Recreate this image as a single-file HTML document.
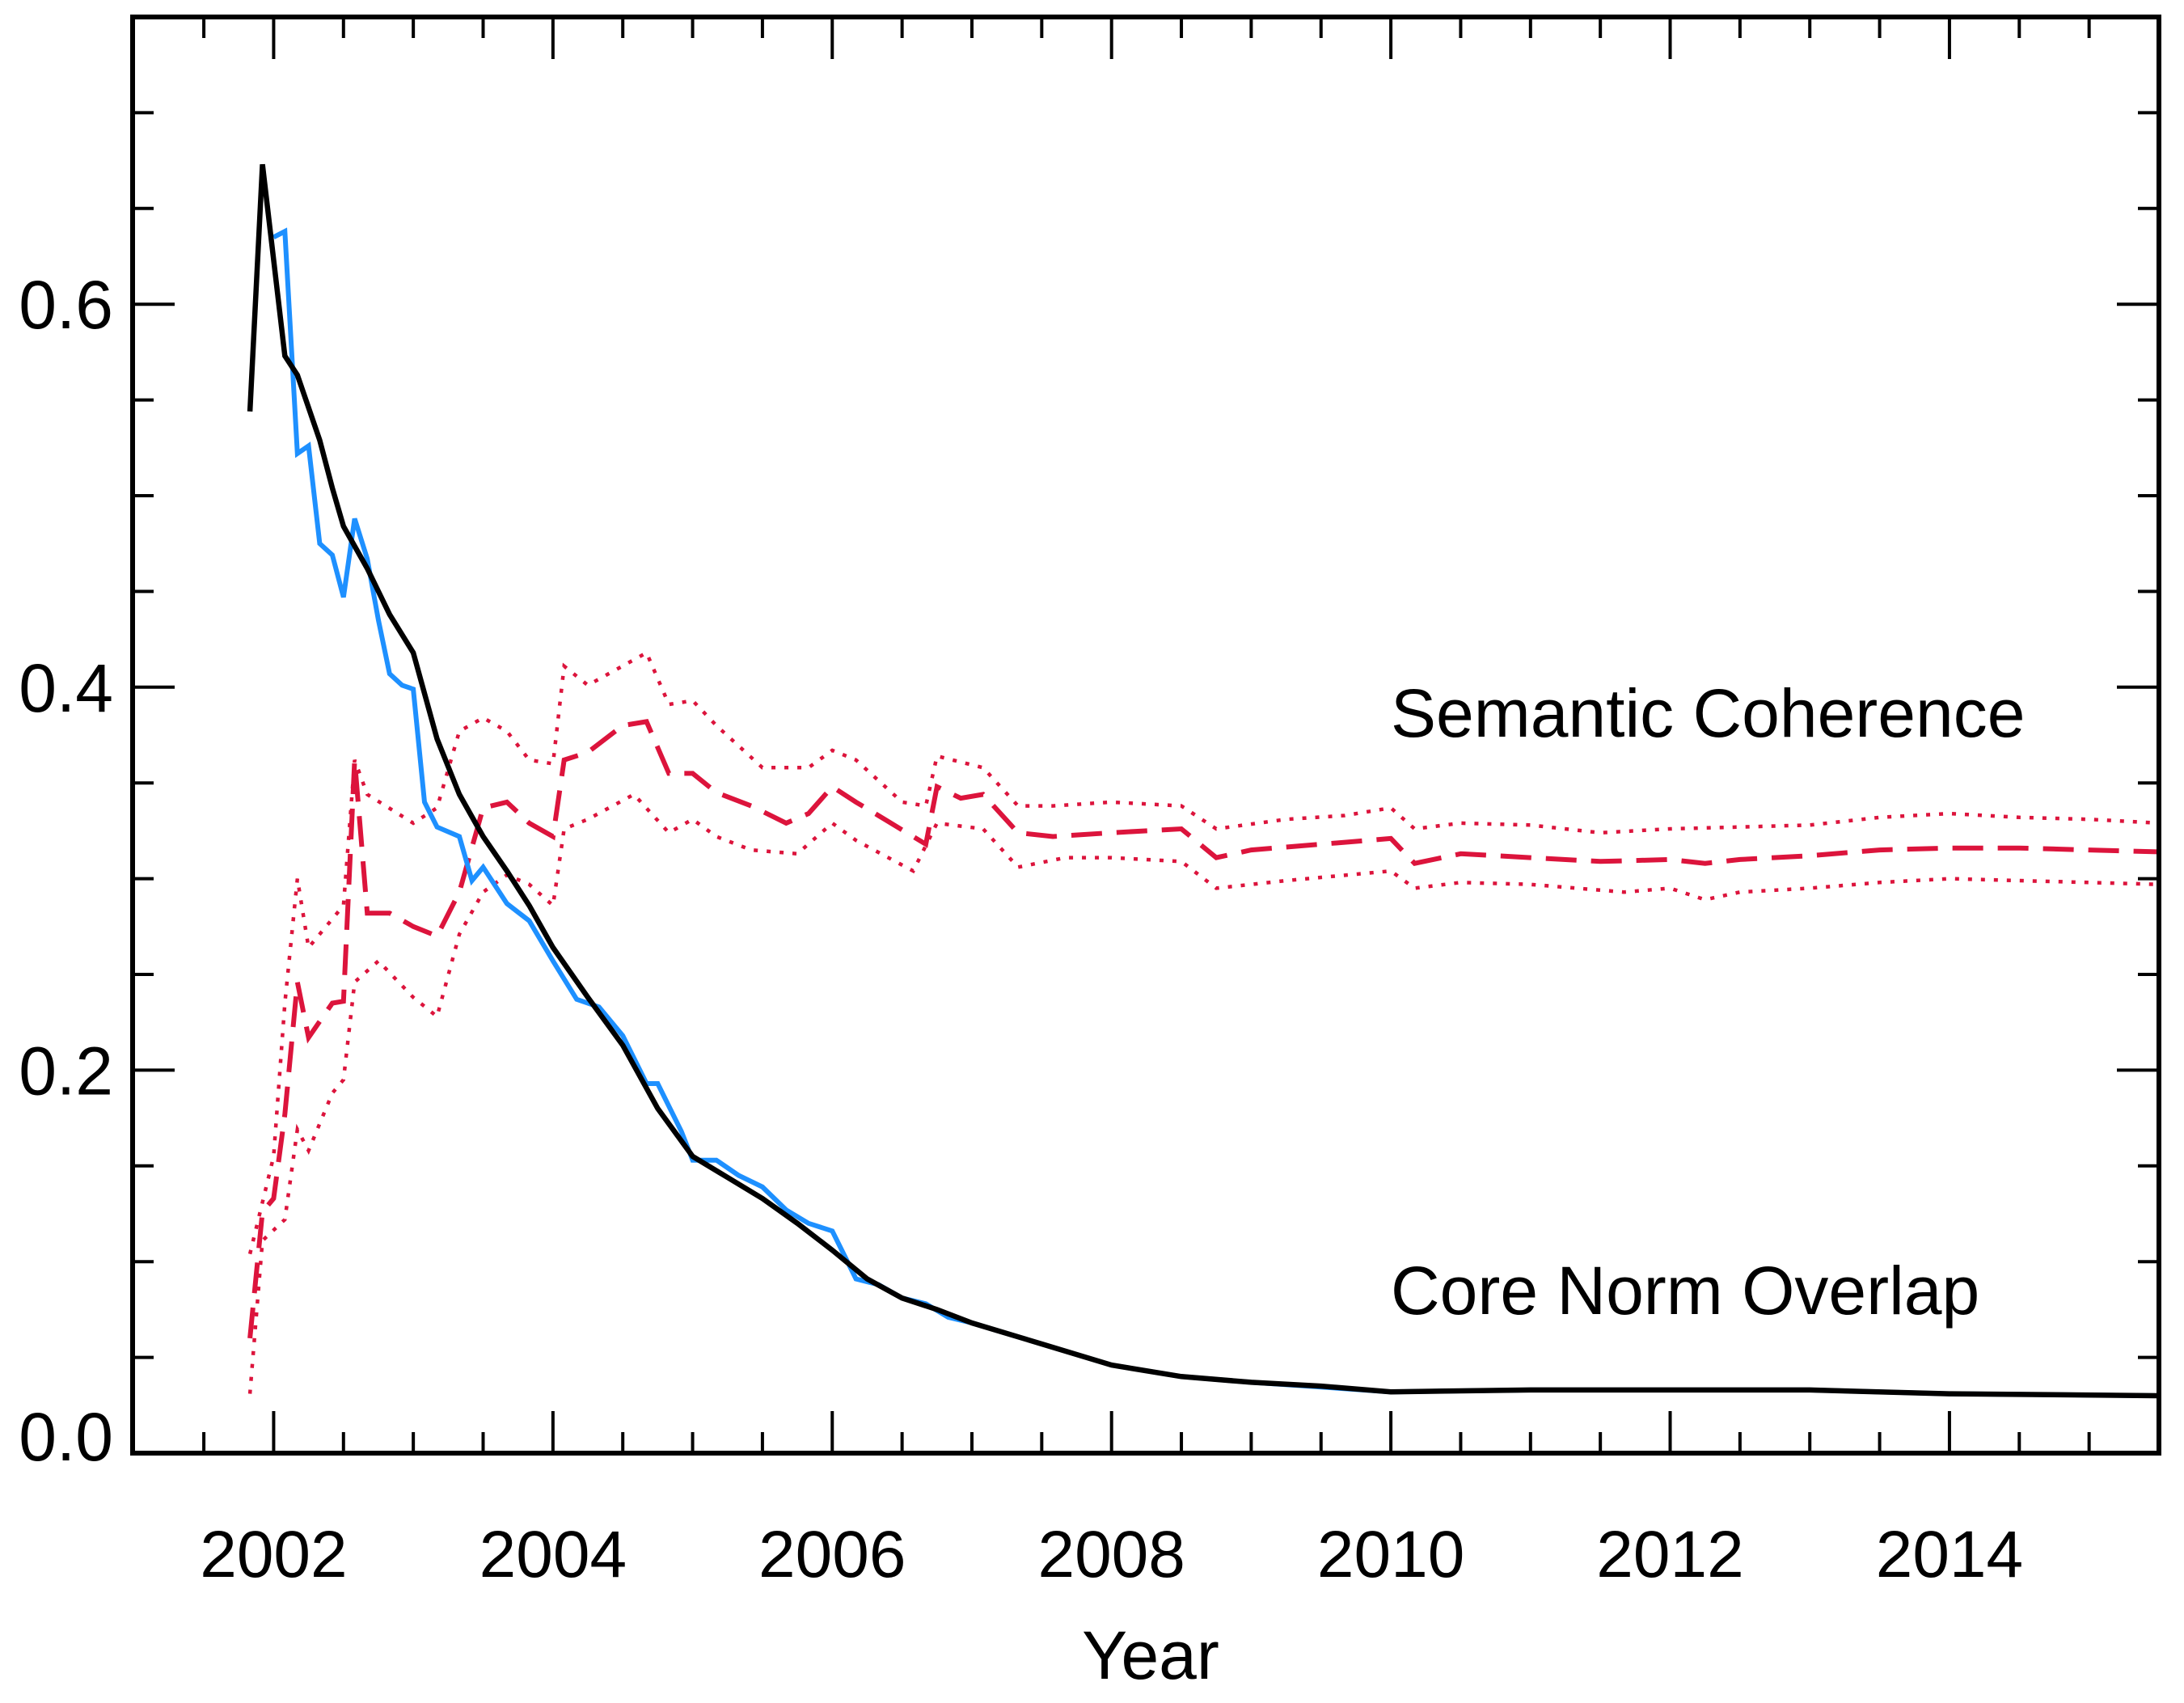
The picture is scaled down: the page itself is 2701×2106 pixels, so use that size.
<!DOCTYPE html>
<html><head><meta charset="utf-8"><style>
html,body{margin:0;padding:0;background:#fff;}
svg{display:block;font-family:"Liberation Sans",Arial,sans-serif;}
</style></head>
<body>
<svg id="chart" width="2701" height="2106" viewBox="0 0 2701 2106" xmlns="http://www.w3.org/2000/svg">
<g id="series"></g>
<g id="axes"></g>
<text x="1423" y="2076" font-size="84" text-anchor="middle">Year</text>
<text x="1720" y="911" font-size="84">Semantic Coherence</text>
<text x="1720" y="1625" font-size="84">Core Norm Overlap</text>
</svg>
<script>
const blackX=[2001.83,2001.92,2002.08,2002.17,2002.33,2002.42,2002.5,2002.67,2002.83,2003.0,2003.17,2003.33,2003.5,2003.67,2003.83,2004.0,2004.25,2004.5,2004.75,2005.0,2005.25,2005.5,2005.75,2006.0,2006.25,2006.5,2006.75,2007.0,2007.5,2008.0,2008.5,2009.0,2009.5,2010.0,2011,2012,2013,2014,2015.5];
const blackY=[0.544,0.673,0.573,0.563,0.529,0.504,0.484,0.462,0.438,0.418,0.373,0.344,0.322,0.304,0.286,0.264,0.238,0.213,0.180,0.155,0.144,0.133,0.120,0.106,0.091,0.081,0.075,0.068,0.057,0.046,0.040,0.037,0.035,0.032,0.033,0.033,0.033,0.031,0.030];
const blueX=[2002.0,2002.08,2002.17,2002.25,2002.33,2002.42,2002.5,2002.58,2002.67,2002.75,2002.83,2002.92,2003.0,2003.08,2003.17,2003.33,2003.42,2003.5,2003.67,2003.83,2004.0,2004.17,2004.33,2004.5,2004.67,2004.75,2004.92,2005.0,2005.17,2005.33,2005.5,2005.67,2005.83,2006.0,2006.17,2006.33,2006.5,2006.67,2006.83,2007.0,2007.5,2008,2008.5,2009,2010,2011,2012,2013,2014,2015.5];
const blueY=[0.635,0.638,0.522,0.526,0.475,0.469,0.447,0.488,0.467,0.435,0.407,0.401,0.399,0.340,0.327,0.322,0.299,0.306,0.287,0.278,0.257,0.237,0.233,0.218,0.193,0.193,0.168,0.153,0.153,0.145,0.139,0.127,0.120,0.116,0.091,0.088,0.081,0.078,0.071,0.068,0.057,0.046,0.040,0.037,0.032,0.033,0.033,0.033,0.031,0.030];
const meanX=[2001.83,2001.92,2002.0,2002.08,2002.17,2002.25,2002.42,2002.5,2002.58,2002.67,2002.83,2003.0,2003.17,2003.33,2003.5,2003.67,2003.83,2004.0,2004.08,2004.25,2004.5,2004.67,2004.83,2005.0,2005.17,2005.42,2005.67,2005.83,2006.0,2006.17,2006.33,2006.67,2006.75,2006.92,2007.08,2007.33,2007.58,2008,2008.5,2008.75,2009,2009.5,2010,2010.17,2010.5,2011,2011.5,2012,2012.25,2012.5,2013,2013.5,2014,2014.5,2015,2015.5];
const meanY=[0.060,0.126,0.133,0.177,0.246,0.217,0.235,0.236,0.362,0.282,0.282,0.275,0.270,0.293,0.337,0.340,0.329,0.322,0.362,0.366,0.380,0.382,0.355,0.355,0.345,0.338,0.329,0.334,0.348,0.340,0.333,0.318,0.348,0.342,0.344,0.324,0.322,0.324,0.326,0.311,0.315,0.318,0.321,0.308,0.313,0.311,0.309,0.310,0.308,0.310,0.312,0.315,0.316,0.316,0.315,0.314];
const upperX=[2001.83,2002.0,2002.08,2002.17,2002.25,2002.5,2002.58,2002.67,2003.0,2003.17,2003.33,2003.5,2003.67,2003.83,2004,2004.08,2004.25,2004.67,2004.83,2005,2005.17,2005.5,2005.83,2006,2006.17,2006.5,2006.67,2006.75,2007.08,2007.33,2007.58,2008,2008.5,2008.75,2009.25,2009.67,2010,2010.17,2010.5,2011,2011.5,2012,2012.5,2013,2013.5,2014,2014.5,2015,2015.5];
const upperY=[0.104,0.155,0.235,0.300,0.264,0.286,0.362,0.344,0.329,0.337,0.377,0.384,0.377,0.362,0.360,0.411,0.401,0.418,0.391,0.393,0.380,0.358,0.358,0.367,0.362,0.340,0.338,0.364,0.358,0.338,0.338,0.340,0.338,0.326,0.331,0.333,0.337,0.326,0.329,0.328,0.324,0.326,0.327,0.328,0.332,0.334,0.332,0.331,0.329];
const lowerX=[2001.83,2001.92,2002.08,2002.17,2002.25,2002.42,2002.5,2002.58,2002.75,2003.0,2003.17,2003.33,2003.5,2003.67,2003.83,2004.0,2004.08,2004.25,2004.58,2004.83,2005,2005.17,2005.42,2005.75,2006,2006.17,2006.58,2006.75,2007.08,2007.33,2007.67,2008,2008.5,2008.75,2009.25,2010,2010.17,2010.5,2011,2011.67,2012,2012.25,2012.5,2013,2013.5,2014,2014.5,2015,2015.5];
const lowerY=[0.031,0.111,0.122,0.169,0.158,0.188,0.195,0.246,0.257,0.238,0.228,0.271,0.293,0.302,0.297,0.286,0.326,0.331,0.344,0.324,0.331,0.322,0.315,0.313,0.329,0.320,0.304,0.329,0.326,0.306,0.311,0.311,0.309,0.295,0.299,0.304,0.295,0.298,0.297,0.293,0.295,0.289,0.293,0.295,0.298,0.300,0.299,0.298,0.297];
const xMajorTicks=[2002,2004,2006,2008,2010,2012,2014];
const xTickLabels=["2002","2004","2006","2008","2010","2012","2014"];
const yMajorTicks=[0,0.2,0.4,0.6];
const yTickLabels=["0.0","0.2","0.4","0.6"];

const L=164,R=2670,T=21,B=1797;
const X0=2000.99,X1=2015.5,Y0=0,Y1=0.75;
function xs(v){return L+(v-X0)/(X1-X0)*(R-L);}
function ys(v){return B-(v-Y0)/(Y1-Y0)*(B-T);}
const NS="http://www.w3.org/2000/svg";
const sg=document.getElementById('series'), ag=document.getElementById('axes');
function mk(tag,attrs,parent){const e=document.createElementNS(NS,tag);for(const k in attrs)e.setAttribute(k,attrs[k]);parent.appendChild(e);return e;}
function line(xa,ya,color,dash,w,name){
  const d=xa.map((x,i)=>(i?'L':'M')+xs(x).toFixed(1)+' '+ys(ya[i]).toFixed(1)).join(' ');
  const p=mk('path',{d:d,fill:'none',stroke:color,'stroke-width':w,'stroke-linejoin':'miter'},sg);
  if(dash)p.setAttribute('stroke-dasharray',dash);
  
  
}
line(upperX,upperY,'#dc143c','5 11',4.5,'semantic-upper-bound-line');
line(lowerX,lowerY,'#dc143c','5 11',4.5,'semantic-lower-bound-line');
line(meanX,meanY,'#dc143c','38 18',6,'semantic-coherence-line');
line(blueX,blueY,'#1e90ff',null,6,'core-norm-overlap-raw-line');
line(blackX,blackY,'#000',null,6.5,'core-norm-overlap-smooth-line');

const fr=mk('rect',{x:L,y:T,width:R-L,height:B-T,fill:'none',stroke:'#000','stroke-width':6},ag);


for(let v=2001.5;v<X1-0.01;v+=0.5){
  const major=xMajorTicks.includes(v);
  const len=major?52:26, x=xs(v);
  const t1=mk('line',{x1:x,x2:x,y1:B,y2:B-len,stroke:'#000','stroke-width':4},ag);
  
  
  const t2=mk('line',{x1:x,x2:x,y1:T,y2:T+len,stroke:'#000','stroke-width':4},ag);
  
  
}
xMajorTicks.forEach((v,i)=>{
  const t=mk('text',{x:xs(v),y:1950,'font-size':82,'text-anchor':'middle'},ag);
  t.textContent=xTickLabels[i];
  
  
});
for(let k=1;k<15;k++){
  const v=k*0.05, y=ys(v);
  const major=(k%4===0);
  const len=major?52:26;
  const t1=mk('line',{x1:L,x2:L+len,y1:y,y2:y,stroke:'#000','stroke-width':4},ag);
  
  
  const t2=mk('line',{x1:R,x2:R-len,y1:y,y2:y,stroke:'#000','stroke-width':4},ag);
  
  
}
yMajorTicks.forEach((v,i)=>{
  const y=Math.min(ys(v)+30,1806);
  const t=mk('text',{x:140,y:y,'font-size':84,'text-anchor':'end'},ag);
  t.textContent=yTickLabels[i];
  
  
});
</script>
</body></html>
